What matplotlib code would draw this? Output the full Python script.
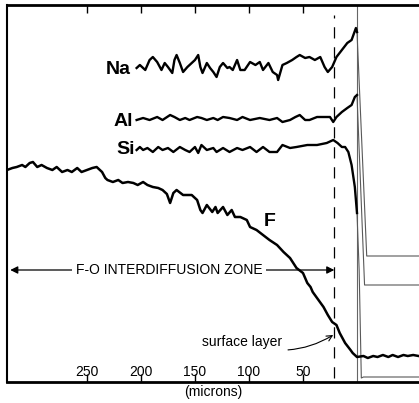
import matplotlib.pyplot as plt

plt.rcParams['font.family'] = ['Liberation Sans', 'DejaVu Sans']

# depth from the surface (microns) and relative signal for each element trace
na_depth = [204, 201, 196, 192, 189, 185, 181, 178, 175, 171, 169, 167, 164, 161, 157, 153, 150,
            147, 145, 143, 139, 136, 133, 130, 127, 124, 120, 118, 115, 111, 108, 104, 99, 94, 90,
            87, 82, 78, 74, 73, 69, 65, 60, 56, 53, 48, 44, 39, 34, 30, 27, 23, 19, 14, 9, 5, 1,
            0, -9, -57]
na_signal = [314, 317, 312, 322, 325, 320, 312, 319, 315, 309, 322, 327, 319, 310, 315, 319, 322,
             327, 315, 309, 319, 314, 310, 305, 315, 319, 314, 315, 312, 322, 312, 312, 320, 317, 320,
             312, 319, 310, 307, 302, 317, 319, 322, 325, 327, 324, 325, 322, 325, 315, 310, 315, 325,
             332, 339, 342, 354, 350, 126, 126]

al_depth = [204, 198, 192, 185, 180, 173, 169, 164, 159, 155, 148, 144, 139, 133, 129, 124, 118,
            111, 106, 99, 90, 81, 74, 69, 62, 57, 53, 48, 44, 37, 31, 25, 22, 19, 14, 9, 5, 2, 0,
            -7, -57]
al_signal = [262, 264, 262, 265, 262, 267, 265, 262, 264, 262, 265, 264, 262, 264, 262, 265, 264,
             262, 265, 262, 264, 262, 264, 260, 262, 265, 267, 262, 262, 265, 265, 265, 260, 265, 270,
             274, 277, 285, 287, 97, 97]

si_depth = [204, 201, 198, 194, 189, 184, 180, 175, 170, 164, 159, 155, 150, 147, 144, 139, 133,
            130, 124, 118, 111, 106, 99, 93, 87, 81, 74, 69, 62, 56, 46, 37, 28, 22, 18, 14, 11, 8,
            5, 2, 0, -2, -4, -6, -57]
si_signal = [232, 235, 232, 234, 230, 235, 232, 234, 230, 235, 232, 230, 235, 229, 237, 232, 234,
             230, 234, 230, 234, 232, 235, 230, 235, 230, 230, 237, 234, 235, 237, 237, 239, 242, 239,
             235, 235, 230, 217, 195, 169, 112, 4, 5, 5]

f_depth = [324, 319, 315, 310, 307, 303, 300, 296, 292, 287, 282, 278, 273, 268, 264, 259, 255,
           250, 245, 241, 236, 233, 231, 226, 221, 217, 212, 207, 203, 198, 194, 189, 184, 180, 176,
           173, 170, 167, 161, 153, 148, 145, 143, 139, 134, 131, 129, 124, 120, 116, 113, 108, 102,
           99, 93, 87, 81, 74, 68, 62, 56, 50, 46, 43, 41, 37, 31, 27, 23, 19, 16, 11, 6, 4, 0, -6,
           -10, -15, -19, -24, -29, -33, -38, -43, -47, -52, -57]
f_signal = [212, 214, 215, 217, 215, 219, 220, 215, 217, 214, 212, 215, 210, 212, 210, 214, 210,
            212, 214, 215, 210, 204, 202, 200, 202, 199, 200, 199, 197, 200, 197, 195, 194, 192, 188,
            179, 189, 192, 187, 187, 182, 172, 169, 177, 170, 175, 169, 175, 167, 172, 165, 165, 162,
            155, 152, 147, 142, 137, 130, 124, 114, 109, 99, 95, 90, 84, 75, 67, 60, 57, 49, 39, 32,
            29, 25, 26, 24, 26, 25, 27, 25, 27, 25, 27, 26, 27, 26]

surface_layer_depth = 21
zone_start = 321
zone_level = 112

fig = plt.figure(figsize=(4.19, 4.03), dpi=100)
ax = fig.add_axes([7 / 419, 21 / 403, 412 / 419, 377 / 403])

# bulk part of the traces is drawn heavy, the part beyond the surface thin
for depth, signal in [(na_depth, na_signal), (al_depth, al_signal), (si_depth, si_signal)]:
    inner = [i for i, d in enumerate(depth) if d >= 0]
    outer = [i for i, d in enumerate(depth) if d <= 0]
    ax.plot([depth[i] for i in inner], [signal[i] for i in inner], color='black', lw=1.7, zorder=4)
    ax.plot([depth[i] for i in outer], [signal[i] for i in outer], color='0.35', lw=0.8, zorder=3)
ax.plot(f_depth, f_signal, color='black', lw=1.8, zorder=4)

ax.axvline(0, color='0.4', lw=0.8, zorder=2)
ax.plot([surface_layer_depth, surface_layer_depth], [4, 367], color='black', lw=0.9,
        linestyle=(0, (9, 7)), zorder=2)

# element labels
ax.text(209, 312, 'Na', ha='right', va='center', fontsize=14, fontweight='bold')
ax.text(207, 261, 'Al', ha='right', va='center', fontsize=14, fontweight='bold')
ax.text(206, 233, 'Si', ha='right', va='center', fontsize=14, fontweight='bold')
ax.text(81, 161, 'F', ha='center', va='center', fontsize=14, fontweight='bold')

# interdiffusion zone arrow
ax.annotate('', xy=(zone_start, zone_level), xytext=(surface_layer_depth, zone_level),
            arrowprops=dict(arrowstyle='<|-|>', color='black', lw=0.9, mutation_scale=11,
                            shrinkA=0, shrinkB=0), zorder=2)
ax.text(174, zone_level, 'F-O INTERDIFFUSION ZONE', ha='center', va='center', fontsize=10,
        bbox=dict(fc='white', ec='none', pad=2.5), zorder=3)

ax.annotate('surface layer', xy=(surface_layer_depth + 1, 47), xytext=(69, 40),
            ha='right', va='center', fontsize=10,
            arrowprops=dict(arrowstyle='->', color='black', lw=0.8,
                            connectionstyle='arc3,rad=0.25', shrinkA=2, shrinkB=0))

ax.set_xlim(324, -57.4)
ax.set_ylim(0, 377)
ax.set_xticks([250, 200, 150, 100, 50])
ax.set_yticks([])
ax.tick_params(axis='x', direction='in', length=6, width=1, top=True, labelsize=10, pad=-12)
ax.set_xlabel('(microns)', fontsize=10, labelpad=2)

ax.spines['right'].set_visible(False)
ax.spines['bottom'].set_linewidth(2)
ax.spines['top'].set_linewidth(2)
ax.spines['left'].set_linewidth(1.5)

fig.savefig('out.png', dpi=100)
